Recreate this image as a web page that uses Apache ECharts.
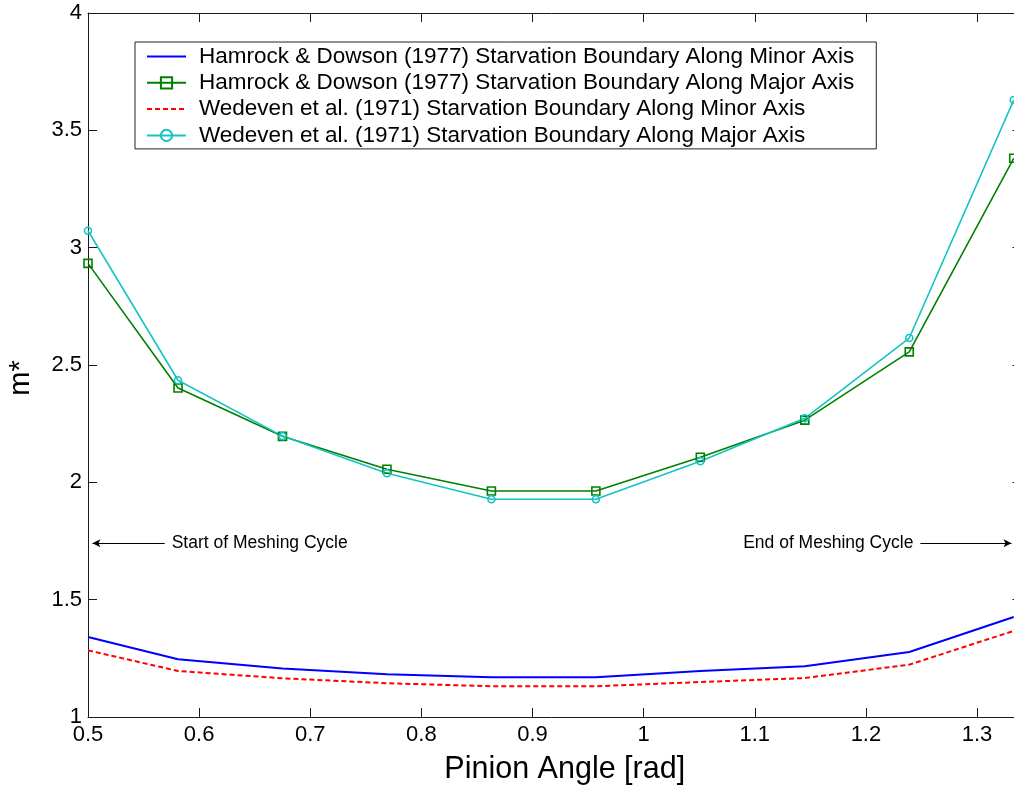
<!DOCTYPE html>
<html>
<head>
<meta charset="utf-8">
<title>Starvation boundary vs pinion angle</title>
<script src="https://cdn.jsdelivr.net/npm/echarts@6/dist/echarts.min.js"></script>
<style>
  html, body { margin: 0; padding: 0; background: #fff; }
  #chart { width: 1014px; height: 788px; }
</style>
</head>
<body>
<div id="chart"></div>
<script>
// Pinion angle [rad] at each evaluated mesh position
const pinionAngle = [0.5, 0.581, 0.675, 0.769, 0.863, 0.957, 1.051, 1.145, 1.239, 1.333];

// Dimensionless inlet distance m* for each criterion
const hamrockMinor = [1.341, 1.246, 1.207, 1.182, 1.169, 1.169, 1.196, 1.216, 1.277, 1.426];
const hamrockMajor = [2.933, 2.402, 2.196, 2.056, 1.963, 1.963, 2.107, 2.265, 2.556, 3.381];
const wedevenMinor = [1.284, 1.196, 1.165, 1.144, 1.131, 1.131, 1.149, 1.166, 1.223, 1.367];
const wedevenMajor = [3.072, 2.435, 2.197, 2.039, 1.928, 1.928, 2.090, 2.273, 2.615, 3.629];

const seriesNames = [
  'Hamrock & Dowson (1977) Starvation Boundary Along Minor Axis',
  'Hamrock & Dowson (1977) Starvation Boundary Along Major Axis',
  'Wedeven et al. (1971) Starvation Boundary Along Minor Axis',
  'Wedeven et al. (1971) Starvation Boundary Along Major Axis'
];

// Axis ranges
const xRange = [0.5, 1.34];
const yRange = [1, 4];

// Mesh cycle annotation: arrow level and horizontal extents (data units)
const cycleLevel = 1.74;
const startArrow = [0.569, 0.504];
const endArrow = [1.249, 1.331];
const cycleLabels = ['Start of Meshing Cycle', 'End of Meshing Cycle'];

const FONT = '"Liberation Sans", Arial, Helvetica, sans-serif';
const pairs = ys => pinionAngle.map((x, i) => [x, ys[i]]);

const chart = echarts.init(document.getElementById('chart'), null, { renderer: 'canvas' });

const frameLine = { show: true, onZero: false, lineStyle: { color: '#1a1a1a', width: 1 } };
const innerTick = { show: true, inside: true, length: 9, lineStyle: { color: '#1a1a1a', width: 1 } };

function arrowLine(xs, label) {
  return [
    { coord: [xs[0], cycleLevel], symbol: 'none',
      label: { show: true, position: 'start', formatter: label, distance: 7,
               color: '#000', fontSize: 17.5, fontFamily: FONT } },
    { coord: [xs[1], cycleLevel], symbol: 'arrow' }
  ];
}

// Plain-line legend entries carry no marker
const legendItems = seriesNames.map((name, i) =>
  (i === 0 || i === 2) ? { name: name, itemStyle: { opacity: 0 } } : { name: name });

chart.setOption({
  animation: false,
  backgroundColor: '#fff',
  textStyle: { fontFamily: FONT },
  grid: { left: 88, top: 13, width: 933.5, height: 704, containLabel: false,
          outerBoundsMode: 'none' },
  legend: {
    orient: 'vertical',
    left: 135,
    top: 42,
    data: legendItems,
    backgroundColor: '#fff',
    borderColor: '#222',
    borderWidth: 1,
    borderRadius: 0,
    padding: [3, 22, 2, 11],
    itemWidth: 39,
    itemHeight: 14,
    itemGap: 3.3,
    selectedMode: false,
    textStyle: { color: '#000', fontSize: 22.5, fontFamily: FONT, lineHeight: 21,
                 padding: [0, 0, 0, 8] }
  },
  xAxis: [
    {
      type: 'value', min: xRange[0], max: xRange[1], interval: 0.1, position: 'bottom',
      name: 'Pinion Angle [rad]', nameLocation: 'middle', nameGap: 37,
      nameTextStyle: { color: '#000', fontSize: 30.5, fontFamily: FONT, padding: [0, 0, 0, 20] },
      axisLine: frameLine, axisTick: innerTick,
      axisLabel: { color: '#000', fontSize: 22, fontFamily: FONT, margin: 7, showMaxLabel: false },
      splitLine: { show: false }
    },
    {
      type: 'value', min: xRange[0], max: xRange[1], interval: 0.1, position: 'top',
      axisLine: frameLine, axisTick: innerTick,
      axisLabel: { show: false }, splitLine: { show: false }
    }
  ],
  yAxis: [
    {
      type: 'value', min: yRange[0], max: yRange[1], interval: 0.5, position: 'left',
      name: 'm*', nameLocation: 'middle', nameGap: 53, nameRotate: 90,
      nameTextStyle: { color: '#000', fontSize: 29, fontFamily: FONT, padding: [0, 26, 0, 0] },
      axisLine: frameLine, axisTick: innerTick,
      axisLabel: { color: '#000', fontSize: 22, fontFamily: FONT, margin: 6 },
      splitLine: { show: false }
    },
    {
      type: 'value', min: yRange[0], max: yRange[1], interval: 0.5, position: 'right',
      axisLine: frameLine, axisTick: innerTick,
      axisLabel: { show: false }, splitLine: { show: false }
    }
  ],
  series: [
    {
      name: seriesNames[0], type: 'line', data: pairs(hamrockMinor),
      symbol: 'none', color: '#0000ff',
      itemStyle: { color: 'rgba(0,0,0,0)' },
      lineStyle: { color: '#0000ff', width: 2 }
    },
    {
      name: seriesNames[1], type: 'line', data: pairs(hamrockMajor),
      symbol: 'rect', symbolSize: 8, color: '#008000',
      itemStyle: { color: 'rgba(255,255,255,0)', borderColor: '#008000', borderWidth: 1.6 },
      lineStyle: { color: '#008000', width: 1.6 }
    },
    {
      name: seriesNames[2], type: 'line', data: pairs(wedevenMinor),
      symbol: 'none', color: '#ff0000',
      itemStyle: { color: 'rgba(0,0,0,0)' },
      lineStyle: { color: '#ff0000', width: 2, type: [5, 3] }
    },
    {
      name: seriesNames[3], type: 'line', data: pairs(wedevenMajor),
      symbol: 'circle', symbolSize: 7, color: '#14c4c4',
      itemStyle: { color: 'rgba(255,255,255,0)', borderColor: '#14c4c4', borderWidth: 1.6 },
      lineStyle: { color: '#14c4c4', width: 1.6 }
    },
    {
      name: 'cycle', type: 'line', data: [], silent: true,
      markLine: {
        silent: true, animation: false,
        symbolSize: [6, 8],
        lineStyle: { color: '#000', width: 1, type: 'solid' },
        emphasis: { disabled: true },
        data: [arrowLine(startArrow, cycleLabels[0]), arrowLine(endArrow, cycleLabels[1])]
      }
    }
  ]
});
</script>
</body>
</html>
